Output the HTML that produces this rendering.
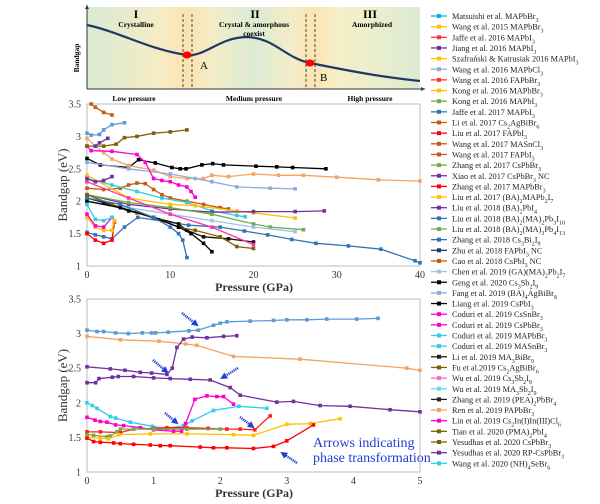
<!DOCTYPE html>
<html><head><meta charset="utf-8">
<style>
body{margin:0;background:#fff;}
svg{display:block;font-family:"Liberation Serif",serif;}
.tk{font-size:10px;fill:#333;}
.lg{font-size:8.3px;fill:#222;}
.b{font-weight:bold;}
</style></head>
<body>
<svg id="fig" width="600" height="504" viewBox="0 0 600 504" xmlns="http://www.w3.org/2000/svg">
<defs>
<linearGradient id="bg" x1="0" x2="1" y1="0" y2="0">
<stop offset="0" stop-color="#d9ead3"/><stop offset="0.22" stop-color="#f6ecc4"/>
<stop offset="0.3" stop-color="#fbe3b0"/><stop offset="0.38" stop-color="#f3ecc8"/>
<stop offset="0.5" stop-color="#dcebd4"/><stop offset="0.62" stop-color="#f4ecc6"/>
<stop offset="0.68" stop-color="#fbe4b2"/><stop offset="0.75" stop-color="#f7efc8"/>
<stop offset="1" stop-color="#dcebd3"/></linearGradient>
<marker id="ah" markerUnits="userSpaceOnUse" markerWidth="7" markerHeight="7" refX="5" refY="3.5" orient="auto"><path d="M0,0 L7,3.5 L0,7z" fill="#1f3fd6"/></marker>
</defs>
<g id="schematic">
<rect x="87" y="7" width="333" height="82" fill="url(#bg)"/>
<line x1="87" y1="89" x2="425" y2="89" stroke="#333" stroke-width="1"/>
<line x1="87" y1="89" x2="87" y2="5" stroke="#333" stroke-width="1"/>
<path d="M425,89 l-4,-2 v4z M87,5 l-2,4 h4z" fill="#333"/>
<g stroke="#222" stroke-dasharray="3,2" stroke-width="0.8">
<line x1="183" y1="14" x2="183" y2="89"/><line x1="192" y1="14" x2="192" y2="89"/>
<line x1="306" y1="14" x2="306" y2="89"/><line x1="315" y1="14" x2="315" y2="89"/></g>
<path d="M87,25 C120,32 150,50 187,55 C205,57 220,37 247,37 C275,38 285,58 310,63 C345,70 380,77 420,81" fill="none" stroke="#1f3864" stroke-width="2.2"/>
<ellipse cx="187" cy="55" rx="4.5" ry="3.5" fill="#f00"/><ellipse cx="310" cy="63" rx="4.5" ry="3.5" fill="#f00"/>
<text x="136" y="18" text-anchor="middle" font-size="12" class="b">I</text>
<text x="136" y="27" text-anchor="middle" font-size="7.5" class="b">Crystalline</text>
<text x="255" y="18" text-anchor="middle" font-size="12" class="b">II</text>
<text x="254" y="27" text-anchor="middle" font-size="7.5" class="b">Crystal &amp; amorphous</text>
<text x="254" y="36" text-anchor="middle" font-size="7.5" class="b">coexist</text>
<text x="370" y="18" text-anchor="middle" font-size="12" class="b">III</text>
<text x="372" y="27" text-anchor="middle" font-size="7.5" class="b">Amorphized</text>
<text x="200" y="69" font-size="11">A</text><text x="320" y="81" font-size="11">B</text>
<text transform="translate(79,58) rotate(-90)" text-anchor="middle" font-size="7.5" class="b">Bandgap</text>
<text x="134" y="101" text-anchor="middle" font-size="7.5" class="b">Low pressure</text>
<text x="254" y="101" text-anchor="middle" font-size="7.5" class="b">Medium pressure</text>
<text x="370" y="101" text-anchor="middle" font-size="7.5" class="b">High pressure</text>
</g>
<g id="mid"></g>
<g id="bot"></g>
<g id="legend"></g>
</svg>
<script>
const midXTicks=[0,10,20,30,40];
const botXTicks=[0,1,2,3,4,5];
const yTicks=[1,1.5,2,2.5,3,3.5];
const yTickLabels=["1","1.5","2","2.5","3","3.5"];
const midColors=["#2e75b6","#000","#f4a460","#8faadc","#ff00cc","#c55a11","#33ccdd","#ffc000","#7030a0","#70ad47","#9dc3e6","#111","#7f6000","#000","#2e75b6","#ff33aa","#5b9bd5","#806000","#c55a11","#7030a0","#ff0000","#7030a0","#ffc000","#ff00cc","#33ccdd"];
const midSeries=[
[[0,1.52],[1,1.48],[2,1.45],[3,1.42],[4.5,1.6],[6.1,1.75],[12.2,1.63],[16,1.6],[18.9,1.54],[21.7,1.48],[24.6,1.41],[27.5,1.35],[31.4,1.31],[35.3,1.26],[39.4,1.08],[40,1.05]],
[[0,2.66],[1.6,2.56],[5,2.52],[6.2,2.64],[8.2,2.59],[10.2,2.52],[11.2,2.5],[11.9,2.5],[13.8,2.56],[15.1,2.58],[16.4,2.56],[20.3,2.54],[22.8,2.53],[24.7,2.52],[28.7,2.5]],
[[0,2.97],[1,2.85],[2,2.75],[3,2.65],[5,2.55],[8,2.48],[10,2.38],[12,2.35],[14,2.35],[15,2.4],[17,2.38],[20,2.42],[23,2.4],[26,2.4],[30,2.37],[35,2.33],[40,2.31]],
[[0,2.6],[5,2.5],[10,2.42],[13,2.35],[15,2.3],[18,2.22],[22,2.2],[25,2.19]],
[[0,2.85],[0.5,2.78],[3,2.77],[6,2.72],[7,2.6],[8,2.35],[9,2.32],[10,2.3],[11,2.25],[12,2.22],[12.5,2.15],[13,2.06]],
[[0,2.2],[2,2.18],[4,2.2],[5,2.25],[6,2.28],[7,2.27],[8,2.18],[9,2.1],[10,2.05],[12,2],[14,1.95],[16,1.9],[17,1.88]],
[[0,2.35],[3,2.25],[6,2.15],[9,2.05],[12,1.98],[15,1.85],[18,1.78],[19,1.76]],
[[0,2.4],[5,2.05],[10,1.95],[13,1.93],[18,1.85],[20,1.82],[25,1.74]],
[[0,2.1],[5,1.95],[10,1.88],[15,1.83],[20,1.84],[25,1.84],[28.5,1.85]],
[[0,2.1],[5,1.98],[10,1.9],[15,1.8],[20,1.65],[22,1.6],[26,1.56]],
[[0,2.0],[5,1.9],[10,1.8],[15,1.7],[20,1.6],[25,1.53]],
[[0,2.05],[2,1.98],[5,1.85],[8,1.75],[11,1.65],[12,1.55],[14,1.45],[17,1.42],[20,1.37]],
[[0,2.1],[3,1.95],[6,1.82],[9,1.7],[11,1.6],[13,1.55],[16,1.45],[18,1.3],[20,1.27]],
[[0,2.0],[4,1.9],[8,1.75],[11,1.6],[12.5,1.5],[14,1.35],[15,1.22]],
[[0,2.05],[4,1.95],[8,1.75],[10,1.6],[11,1.5],[11.5,1.4],[12,1.13]],
[[0,2.3],[5,2.05],[10,1.8],[15,1.6],[20,1.33]],
[[0,3.05],[0.5,3.02],[1.5,3.03],[2,3.1],[3,3.18],[4.5,3.21]],
[[0,2.85],[2,2.85],[3.5,2.88],[4.5,2.98],[6,3.0],[8,3.05],[10,3.07],[12,3.1]],
[[0.5,3.5],[1,3.45],[2,3.37],[3,3.33]],
[[1,2.85],[1.5,2.9],[2.5,2.97]],
[[0,1.5],[1,1.4],[2,1.35],[3,1.4],[3.3,1.68]],
[[0,2.35],[1,2.3],[2,2.32],[3,2.38]],
[[0,1.75],[1,1.6],[2,1.55],[3,1.55],[3.3,1.7]],
[[0,1.8],[1,1.62],[2,1.6],[3,1.75]],
[[0,1.95],[1,1.72],[2,1.7],[3,1.75]]
];
const botColors=["#5b9bd5","#f4a460","#7030a0","#7030a0","#33ccee","#ff00cc","#ff2020","#70ad47","#ffc000","#ff0000"];
const botSeries=[
[[0,3.05],[0.15,3.03],[0.25,3.03],[0.43,3.01],[0.62,3.0],[0.83,3.01],[0.97,3.01],[1.03,3.01],[1.22,3.02],[1.53,3.04],[1.67,3.05],[1.9,3.12],[2.0,3.15],[2.1,3.17],[2.45,3.18],[2.8,3.19],[3,3.2],[3.3,3.2],[3.6,3.21],[4.05,3.21],[4.37,3.22]],
[[0,2.96],[0.5,2.91],[1.08,2.89],[1.48,2.85],[1.65,2.83],[2.2,2.67],[3.2,2.63],[4.8,2.5],[5,2.47]],
[[0,2.52],[0.35,2.49],[0.57,2.47],[0.8,2.44],[0.97,2.43],[1.2,2.41],[1.28,2.5],[1.35,2.8],[1.45,2.92],[1.58,2.95],[1.8,2.94],[2.05,2.96],[2.25,2.97]],
[[0,2.29],[0.13,2.29],[0.18,2.35],[0.38,2.37],[0.47,2.38],[0.7,2.38],[1,2.36],[1.25,2.35],[1.55,2.34],[1.85,2.33],[2.15,2.22],[2.3,2.11],[2.85,2.01],[3.1,2.02],[3.5,1.96],[3.95,1.95],[4.55,1.9],[5,1.87]],
[[0,2.0],[0.08,1.96],[0.15,1.92],[0.35,1.8],[0.43,1.78],[0.65,1.72],[0.98,1.66],[1.2,1.63],[1.45,1.67],[1.58,1.74],[1.9,1.89],[2.28,1.95],[2.7,1.92]],
[[0,1.79],[0.12,1.75],[0.2,1.73],[0.3,1.72],[0.43,1.68],[0.55,1.67],[0.8,1.64],[1.0,1.61],[1.3,1.59],[1.42,1.59],[1.48,1.7],[1.62,2.05],[1.8,2.1],[1.95,2.09],[2.05,2.09],[2.2,1.98]],
[[0,1.58],[0.2,1.58],[0.5,1.57],[0.7,1.62],[1,1.63],[1.2,1.64],[1.5,1.64],[1.82,1.63],[2.1,1.62],[2.3,1.62],[2.52,1.61],[2.75,1.81]],
[[0,1.54],[0.1,1.53],[0.3,1.51],[0.35,1.52],[0.45,1.58],[0.5,1.62],[0.7,1.62],[1,1.62],[1.5,1.62],[2,1.62]],
[[0,1.5],[0.2,1.49],[0.32,1.48],[0.48,1.54],[0.95,1.55],[1.5,1.55],[2.2,1.54],[2.5,1.53],[3,1.69],[3.35,1.7],[3.8,1.77]],
[[0,1.49],[0.1,1.44],[0.2,1.43],[0.4,1.42],[0.5,1.41],[0.7,1.4],[0.95,1.39],[1.1,1.38],[1.25,1.38],[1.7,1.36],[1.9,1.35],[2.1,1.35],[2.5,1.34],[2.8,1.37],[3,1.45],[3.4,1.68]]
];
const S=n=>"<tspan baseline-shift='sub' font-size='6'>"+n+"</tspan>";
const legendLabels=["Matsuishi et al. MAPbBr"+S(3),"Wang et al. 2015 MAPbBr"+S(3),"Jaffe et al. 2016 MAPbI"+S(3),"Jiang et al. 2016 MAPbI"+S(3),"Szafrański &amp; Katrusiak 2016 MAPbI"+S(3),"Wang et al. 2016 MAPbCl"+S(3),"Wang et al. 2016 FAPbBr"+S(3),"Kong et al. 2016 MAPbBr"+S(3),"Kong et al. 2016 MAPbI"+S(3),"Jaffe et al. 2017 MAPbI"+S(3),"Li et al. 2017 Cs"+S(2)+"AgBiBr"+S(6),"Liu et al. 2017 FAPbI"+S(3),"Wang et al. 2017 MASnCl"+S(3),"Wang et al. 2017 FAPbI"+S(3),"Zhang et al. 2017 CsPbBr"+S(3),"Xiao et al. 2017 CsPbBr"+S(3)+" NC","Zhang et al. 2017 MAPbBr"+S(3),"Liu et al. 2017 (BA)"+S(2)+"MAPb"+S(2)+"I"+S(7),"Liu et al. 2018 (BA)"+S(2)+"PbI"+S(4),"Liu et al. 2018 (BA)"+S(2)+"(MA)"+S(2)+"Pb"+S(3)+"I"+S(10),"Liu et al. 2018 (BA)"+S(2)+"(MA)"+S(3)+"Pb"+S(4)+"I"+S(13),"Zhang et al. 2018 Cs"+S(3)+"Bi"+S(2)+"I"+S(9),"Zhu et al. 2018 FAPbI"+S(3)+" NC","Cao et al. 2018 CsPbI"+S(3)+" NC","Chen et al. 2019 (GA)(MA)"+S(2)+"Pb"+S(2)+"I"+S(7),"Geng et al. 2020 Cs"+S(3)+"Sb"+S(2)+"I"+S(9),"Fang et al. 2019 (BA)"+S(4)+"AgBiBr"+S(8),"Liang et al. 2019 CsPbI"+S(3),"Coduri et al. 2019 CsSnBr"+S(3),"Coduri et al. 2019 CsPbBr"+S(3),"Coduri et al. 2019 MAPbBr"+S(3),"Coduri et al. 2019 MASnBr"+S(3),"Li et al. 2019 MA"+S(3)+"BiBr"+S(9),"Fu et al.2019 Cs"+S(2)+"AgBiBr"+S(6),"Wu et al. 2019 Cs"+S(3)+"Sb"+S(2)+"I"+S(9),"Wu et al. 2019 MA"+S(3)+"Sb"+S(2)+"I"+S(9),"Zhang et al. 2019 (PEA)"+S(2)+"PbBr"+S(4),"Ren et al. 2019 PAPbBr"+S(3),"Lin et al. 2019 Cs"+S(2)+"In(I)In(III)Cl"+S(6),"Tian et al. 2020 (PMA)"+S(2)+"PbI"+S(4),"Yesudhas et al. 2020 CsPbBr"+S(3),"Yesudhas et al. 2020 RP-CsPbBr"+S(3),"Wang et al. 2020 (NH)"+S(4)+"SeBr"+S(6)];
const legendColors=["#00b0f0","#ffc000","#ff3333","#7030a0","#ffc000","#8faadc","#ff3333","#ffc000","#70ad47","#2e75b6","#c55a11","#ff0000","#c55a11","#c55a11","#70ad47","#7030a0","#ff0000","#ffc000","#7030a0","#2e75b6","#70ad47","#2e75b6","#203864","#c55a11","#9dc3e6","#000","#8faadc","#000","#ff00cc","#ff00cc","#33ccee","#33ccee","#222","#7f6000","#ff66cc","#66ddee","#222","#f4a460","#ff00cc","#7f6000","#7f6000","#7030a0","#33ccee"];

const NS="http://www.w3.org/2000/svg";
function mk(parent,tag,attrs){const e=document.createElementNS(NS,tag);for(const k in attrs)e.setAttribute(k,attrs[k]);parent.appendChild(e);return e;}

function chart(gid,top,bottom,xmax,xTicks,series,colors,name){
  const g=document.getElementById(gid);
  const L=87,R=420;
  const sx=v=>L+v/xmax*(R-L);
  const sy=v=>bottom-(v-1)/2.5*(bottom-top);
  const frame=mk(g,'rect',{x:L,y:top,width:R-L,height:bottom-top,fill:'#fff',stroke:'#bbb','stroke-width':1});
  
  
  yTicks.forEach((t,i)=>{const tx=mk(g,'text',{x:81,y:sy(t)+3.5,'text-anchor':'end',class:'tk'});tx.textContent=yTickLabels[i];
    
    });
  xTicks.forEach(t=>{const tx=mk(g,'text',{x:sx(t),y:bottom+12,'text-anchor':'middle',class:'tk'});tx.textContent=String(t);
    
    });
  const xt=mk(g,'text',{x:254,y:bottom+25,'text-anchor':'middle','font-size':12,'font-weight':'bold',fill:'#333'});xt.textContent='Pressure (GPa)';
  
  
  const yt=mk(g,'text',{transform:`translate(67,${(top+bottom)/2}) rotate(-90)`,'text-anchor':'middle','font-size':13,fill:'#333'});yt.textContent='Bandgap (eV)';
  
  
  series.forEach((s,i)=>{
    const c=colors[i%colors.length];
    const sg=mk(g,'g',{});
    
    
    const d=s.map((p,j)=>(j?'L':'M')+sx(p[0]).toFixed(1)+','+sy(p[1]).toFixed(1)).join(' ');
    mk(sg,'path',{d:d,fill:'none',stroke:c,'stroke-width':1.3});
    s.forEach(p=>{const m=mk(sg,'rect',{x:sx(p[0])-1.8,y:sy(p[1])-1.8,width:3.6,height:3.6,fill:c});
      
      });
  });
}
chart('mid',104,266,40,midXTicks,midSeries,midColors,'wide-range');
chart('bot',299,472,5,botXTicks,botSeries,botColors,'low-range');

const bot=document.getElementById('bot');
const arrows=[[182,313,197,325],[153,360,167,372],[238,368,222,378],[165,413,177,423],[240,417,253,427],[297,463,282,453]];
arrows.forEach(a=>{const l=mk(bot,'line',{x1:a[0],y1:a[1],x2:a[2],y2:a[3],stroke:'#1f3fd6','stroke-width':2.5,'stroke-dasharray':'1.2,0.8','marker-end':'url(#ah)'});
  
  });
const at1=mk(bot,'text',{x:313,y:447,'font-size':14,fill:'#1f3fd6'});at1.textContent='Arrows indicating';


const at2=mk(bot,'text',{x:313,y:462,'font-size':14,fill:'#1f3fd6'});at2.textContent='phase transformation';



const lg=document.getElementById('legend');
legendLabels.forEach((lab,i)=>{
  const y=16+i*10.65;
  const eg=mk(lg,'g',{});
  
  
  const c=legendColors[i];
  mk(eg,'line',{x1:431,y1:y,x2:447,y2:y,stroke:c,'stroke-width':1.3});
  mk(eg,'rect',{x:437,y:y-2,width:4,height:4,fill:c});
  const t=mk(eg,'text',{x:452,y:y+3,class:'lg'});t.innerHTML=lab;
});
</script>
</body></html>
